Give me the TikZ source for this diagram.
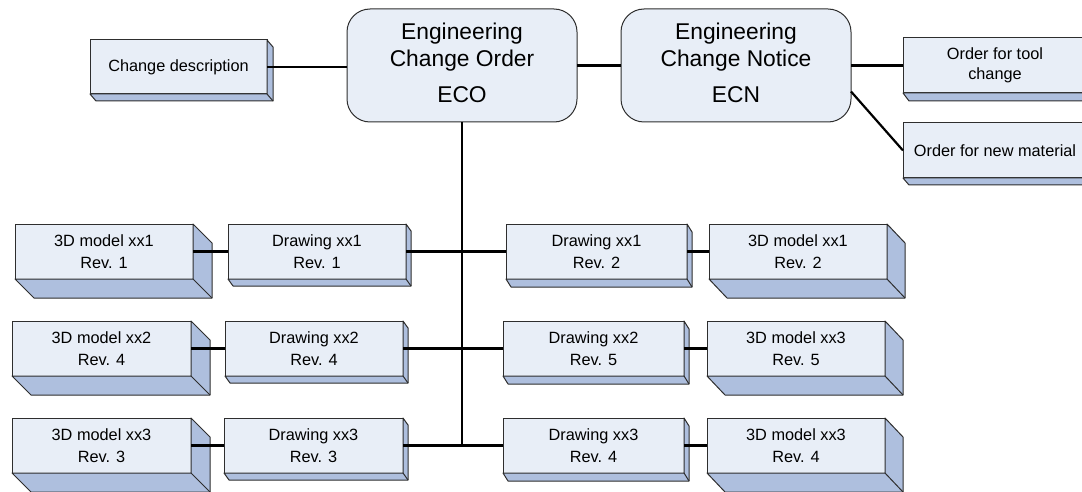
\documentclass[tikz,border=0pt]{standalone}
\usepackage{fontspec}
\setmainfont{Liberation Sans}
\definecolor{frontc}{HTML}{E8EEF7}
\definecolor{sidec}{HTML}{AEBFDE}
\definecolor{edgec}{HTML}{2E2E2E}
\newcommand\boxsides[3]{%
  \filldraw[sideface] (#1.north east) -- ([shift={(#2,#3)}]#1.north east)
    -- ([shift={(#2,#3)}]#1.south east) -- ([shift={(#2,#3)}]#1.south west)
    -- (#1.south west) -- (#1.south east) -- cycle;
  \draw[sideface] (#1.south east) -- ([shift={(#2,#3)}]#1.south east);
}
\begin{document}
\begin{tikzpicture}[x=1pt,y=-1pt,
  front/.style={draw=edgec, line width=1pt, fill=frontc, inner sep=0pt, outer sep=0pt,
    anchor=north west, align=center, minimum height=55pt,
    font=\fontsize{16.3}{21.5}\selectfont},
  roundbox/.style={draw=edgec, line width=1pt, fill=frontc, inner sep=0pt, outer sep=0pt,
    anchor=north west, align=center, rounded corners=23pt, minimum width=230pt, minimum height=113pt,
    font=\fontsize{22.8}{26.5}\selectfont},
  sideface/.style={draw=edgec, line width=1pt, fill=sidec, line join=round},
  conn/.style={draw=black, line width=2.2pt}]
\useasboundingbox (0,0) rectangle (1082,492);

% top row
\node[roundbox] (eco) at (347,9) {Engineering\\Change Order\\[10pt]ECO\rule[-5pt]{0pt}{0pt}};
\node[roundbox] (ecn) at (621,9) {Engineering\\Change Notice\\[10pt]ECN\rule[-5pt]{0pt}{0pt}};
\node[front, minimum width=177pt, minimum height=54pt] (cd) at (90,40) {Change description};
\node[front, minimum width=184pt, font=\fontsize{16.3}{20}\selectfont] (tool) at (903,38) {Order for tool\\change};
\node[front, minimum width=184pt] (mat) at (903,123) {Order for new material};

% row 1
\node[front, minimum width=178pt] (a1) at (15,224) {3D model xx1\\Rev. 1};
\node[front, minimum width=178pt] (b1) at (228,224) {Drawing xx1\\Rev. 1};
\node[front, minimum width=181pt] (c1) at (506,224) {Drawing xx1\\Rev. 2};
\node[front, minimum width=178pt] (d1) at (709,224) {3D model xx1\\Rev. 2};
% row 2
\node[front, minimum width=179pt] (a2) at (12,321) {3D model xx2\\Rev. 4};
\node[front, minimum width=178pt] (b2) at (225,321) {Drawing xx2\\Rev. 4};
\node[front, minimum width=181pt] (c2) at (503,321) {Drawing xx2\\Rev. 5};
\node[front, minimum width=178pt] (d2) at (707,321) {3D model xx3\\Rev. 5};
% row 3
\node[front, minimum width=179pt] (a3) at (12,418) {3D model xx3\\Rev. 3};
\node[front, minimum width=179pt] (b3) at (224,418) {Drawing xx3\\Rev. 3};
\node[front, minimum width=181pt] (c3) at (503,418) {Drawing xx3\\Rev. 4};
\node[front, minimum width=178pt] (d3) at (707,418) {3D model xx3\\Rev. 4};

% depth faces
\boxsides{cd}{6}{7}
\boxsides{tool}{6}{8}
\boxsides{mat}{6}{7}
\foreach \r in {1,2,3}{
  \boxsides{a\r}{19}{19}
  \boxsides{b\r}{5}{7}
  \boxsides{c\r}{5}{8}
  \boxsides{d\r}{18}{19}
}

% connectors
\coordinate (trunkend) at (eco.south |- b3.east);
\draw[conn] (cd.east) -- (cd.east -| eco.west);
\draw[conn] (eco.east) -- (ecn.west);
\draw[conn] (ecn.east) -- (ecn.east -| tool.west);
\draw[conn] ([yshift=-26pt]ecn.east) -- (mat.west);
\draw[conn] (eco.south) -- (trunkend);
\foreach \r in {1,2,3}{
  \draw[conn] (a\r.east) -- (b\r.west);
  \draw[conn] (b\r.east) -- (c\r.west);
  \draw[conn] (c\r.east) -- (d\r.west);
}
\end{tikzpicture}
\end{document}
